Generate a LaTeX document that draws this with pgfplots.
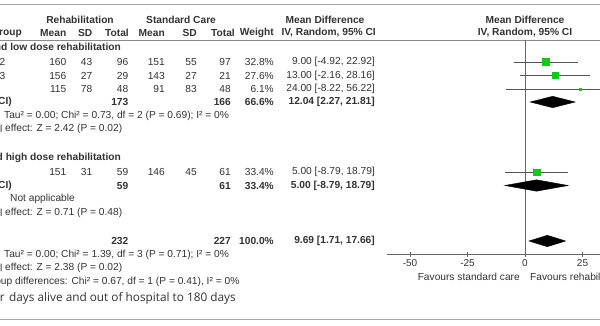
\documentclass[border=0pt]{standalone}
\usepackage{pgfplots}
\pgfplotsset{compat=1.18}
\usepackage{fontspec}
\setmainfont{Liberation Sans}
\newfontfamily\capfont{Open Sans}
\definecolor{txt}{HTML}{333333}
\definecolor{fgreen}{RGB}{20,200,20}
\definecolor{cig}{HTML}{555555}
\definecolor{zg}{HTML}{666666}
\definecolor{lineg}{HTML}{8A8A8A}
\definecolor{frameg}{HTML}{A8A8A8}
\begin{document}
\begin{tikzpicture}[x=1pt,y=1pt,
  t/.style={inner sep=0pt, font=\fontsize{10.2}{12}\selectfont, text=txt},
  tb/.style={inner sep=0pt, font=\fontsize{10.2}{12}\selectfont\bfseries, text=txt}]
\useasboundingbox (0,0) rectangle (600,325);
\clip (0,0) rectangle (600,325);
\fill[white] (0,0) rectangle (600,325);
% frame / rule lines
\draw[frameg, line width=0.9pt] (0,321) -- (600,321);
\draw[lineg, line width=1pt] (0,285) -- (600,285);
\draw[frameg, line width=0.9pt] (0,6) -- (600,6);
% header row 1
\node[tb] at (80,305) {Rehabilitation};
\node[tb, anchor=west] at (146,305) {Standard Care};
\node[tb] at (325,305) {Mean Difference};
\node[tb] at (525,305) {Mean Difference};
% header row 2
\node[tb, anchor=east] at (22,292) {Study or Subgroup};
\node[tb, anchor=east] at (66.5,292) {Mean};
\node[tb, anchor=east] at (92.5,292) {SD};
\node[tb, anchor=east] at (129,292) {Total};
\node[tb, anchor=east] at (165,292) {Mean};
\node[tb, anchor=east] at (197,292) {SD};
\node[tb, anchor=east] at (235,292) {Total};
\node[tb, anchor=east] at (274,292) {Weight};
\node[tb, anchor=east] at (376,292) {IV, Random, 95\% CI};
\node[tb] at (525,292) {IV, Random, 95\% CI};
% group 1
\node[tb, anchor=east] at (121,277.5) {1.1.1 Early and low dose rehabilitation};
\node[t, anchor=east] at (5.5,263) {Author 2012};
\node[t, anchor=east] at (66.5,263) {160};
\node[t, anchor=east] at (92.5,263) {43};
\node[t, anchor=east] at (128.5,263) {96};
\node[t, anchor=east] at (165,263) {151};
\node[t, anchor=east] at (197,263) {55};
\node[t, anchor=east] at (231,263) {97};
\node[t, anchor=east] at (274,263) {32.8\%};
\node[t, anchor=east] at (375,263) {9.00 [-4.92, 22.92]};
\node[t, anchor=east] at (5.5,249.5) {Author 2013};
\node[t, anchor=east] at (66.5,249.5) {156};
\node[t, anchor=east] at (92.5,249.5) {27};
\node[t, anchor=east] at (128.5,249.5) {29};
\node[t, anchor=east] at (165,249.5) {143};
\node[t, anchor=east] at (197,249.5) {27};
\node[t, anchor=east] at (231,249.5) {21};
\node[t, anchor=east] at (274,249.5) {27.6\%};
\node[t, anchor=east] at (375,249.5) {13.00 [-2.16, 28.16]};
\node[t, anchor=east] at (66.5,236) {115};
\node[t, anchor=east] at (92.5,236) {78};
\node[t, anchor=east] at (128.5,236) {48};
\node[t, anchor=east] at (165,236) {91};
\node[t, anchor=east] at (197,236) {83};
\node[t, anchor=east] at (231,236) {48};
\node[t, anchor=east] at (274,236) {6.1\%};
\node[t, anchor=east] at (375,236) {24.00 [-8.22, 56.22]};
\node[tb, anchor=east] at (12,223) {Subtotal (95\% CI)};
\node[tb, anchor=east] at (128.5,223) {173};
\node[tb, anchor=east] at (231,223) {166};
\node[tb, anchor=east] at (274,223) {66.6\%};
\node[tb, anchor=east] at (375,223) {12.04 [2.27, 21.81]};
\node[t, anchor=east] at (0,209.5) {Heterogeneity:};
\node[t, anchor=west] at (4,209.5) {Tau² = 0.00; Chi² = 0.73, df = 2 (P = 0.69); I² = 0\%};
\node[t, anchor=east] at (2.5,196.5) {Test for overall};
\node[t, anchor=west] at (5,196.5) {effect: Z = 2.42 (P = 0.02)};
% group 2
\node[tb, anchor=east] at (121,167.5) {1.1.2 Early and high dose rehabilitation};
\node[t, anchor=east] at (66.5,153) {151};
\node[t, anchor=east] at (92.5,153) {31};
\node[t, anchor=east] at (128.5,153) {59};
\node[t, anchor=east] at (165,153) {146};
\node[t, anchor=east] at (197,153) {45};
\node[t, anchor=east] at (231,153) {61};
\node[t, anchor=east] at (274,153) {33.4\%};
\node[t, anchor=east] at (375,153) {5.00 [-8.79, 18.79]};
\node[tb, anchor=east] at (12,139.5) {Subtotal (95\% CI)};
\node[tb, anchor=east] at (128.5,139.5) {59};
\node[tb, anchor=east] at (231,139.5) {61};
\node[tb, anchor=east] at (274,139.5) {33.4\%};
\node[tb, anchor=east] at (375,139.5) {5.00 [-8.79, 18.79]};
\node[t, anchor=east] at (0,126) {Heterogeneity:};
\node[t, anchor=west] at (10,126) {Not applicable};
\node[t, anchor=east] at (2.5,112.5) {Test for overall};
\node[t, anchor=west] at (5,112.5) {effect: Z = 0.71 (P = 0.48)};
% total
\node[tb, anchor=east] at (128.5,84) {232};
\node[tb, anchor=east] at (231,84) {227};
\node[tb, anchor=east] at (274,84) {100.0\%};
\node[tb, anchor=east] at (375,84) {9.69 [1.71, 17.66]};
\node[t, anchor=east] at (0,70.5) {Heterogeneity:};
\node[t, anchor=west] at (4,70.5) {Tau² = 0.00; Chi² = 1.39, df = 3 (P = 0.71); I² = 0\%};
\node[t, anchor=east] at (2.5,57) {Test for overall};
\node[t, anchor=west] at (5,57) {effect: Z = 2.38 (P = 0.02)};
\node[t, anchor=east] at (12.5,43.5) {Test for subgroup};
\node[t, anchor=west] at (15,43.5) {differences: Chi² = 0.67, df = 1 (P = 0.41), I² = 0\%};
% favours
\node[t, anchor=east] at (520,48) {Favours standard care};
\node[t, anchor=west] at (530,48) {Favours rehabilitation};
% caption
\node[inner sep=0pt, anchor=east, font=\capfont\fontsize{11.8}{13}\selectfont, text=txt] at (5,27) {Forest plot for};
\node[inner sep=0pt, anchor=west, font=\capfont\fontsize{11.8}{13}\selectfont, text=txt] at (9,27) {days alive and out of hospital to 180 days};
% forest plot axis
\begin{axis}[
  at={(387pt,71pt)}, anchor=south west,
  scale only axis, width=212.98pt, height=214pt,
  xmin=-60, xmax=32.6, ymin=-254, ymax=-40,
  axis x line=bottom, axis y line=none,
  x axis line style={-, draw=zg, line width=0.8pt},
  xtick={-50,-25,0,25},
  xtick align=center, major tick length=5pt,
  tick style={draw=zg, line width=0.8pt},
  xticklabel style={font=\fontsize{10}{12}\selectfont, text=txt, yshift=1pt},
  /pgf/number format/assume math mode=true,
  clip=true,
]
\addplot[zg, line width=0.8pt] coordinates {(0,-40) (0,-254)};
% confidence intervals
\addplot[cig, line width=0.8pt] coordinates {(-4.92,-62) (22.92,-62)};
\addplot[cig, line width=0.8pt] coordinates {(-2.16,-75.5) (28.16,-75.5)};
\addplot[cig, line width=0.8pt] coordinates {(-8.22,-89) (56.22,-89)};
\addplot[cig, line width=0.8pt] coordinates {(-8.79,-172) (18.79,-172)};
% study estimates
\addplot[only marks, mark=square*, mark options={fill=fgreen, draw=fgreen}, mark size=3.4pt] coordinates {(9,-62)};
\addplot[only marks, mark=square*, mark options={fill=fgreen, draw=fgreen}, mark size=2.9pt] coordinates {(13,-75.5)};
\addplot[only marks, mark=square*, mark options={fill=fgreen, draw=fgreen}, mark size=1.2pt] coordinates {(24,-89)};
\addplot[only marks, mark=square*, mark options={fill=fgreen, draw=fgreen}, mark size=3.3pt] coordinates {(5,-172)};
% pooled diamonds
\addplot[fill=black, draw=black] coordinates {(2.27,-102) (12.04,-96.3) (21.81,-102) (12.04,-107.7)} -- cycle;
\addplot[fill=black, draw=black] coordinates {(-8.79,-185.5) (5,-179.8) (18.79,-185.5) (5,-191.2)} -- cycle;
\addplot[fill=black, draw=black] coordinates {(1.71,-241) (9.69,-235.3) (17.66,-241) (9.69,-246.7)} -- cycle;
\end{axis}
\end{tikzpicture}
\end{document}
